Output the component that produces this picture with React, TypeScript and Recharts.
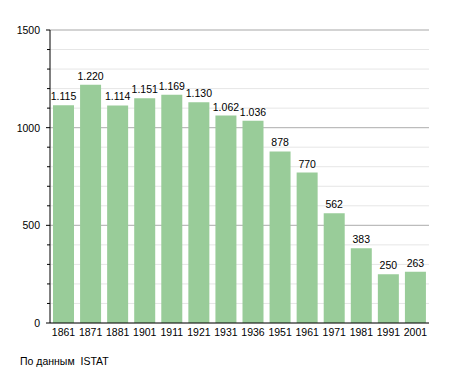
import { Bar, BarChart, CartesianGrid, LabelList, XAxis, YAxis } from "recharts";

const years = ["1861", "1871", "1881", "1901", "1911", "1921", "1931", "1936", "1951", "1961", "1971", "1981", "1991", "2001"];
const population = [1115, 1220, 1114, 1151, 1169, 1130, 1062, 1036, 878, 770, 562, 383, 250, 263];
const yTicks = [0, 100, 200, 300, 400, 500, 600, 700, 800, 900, 1000, 1100, 1200, 1300, 1400, 1500];
const majorTicks = [500, 1000, 1500];
const yMax = 1500;

const data = years.map((year, i) => ({ year, value: population[i] }));

const FONT = "'Liberation Sans', Arial, sans-serif";

// 1115 -> "1.115"
const fmt = (v: number) => String(v).replace(/\B(?=(\d{3})+(?!\d))/g, ".");

const YTick = (props: any) => {
  const { x, y, payload } = props;
  const major = payload.value % 500 === 0;
  return (
    <g>
      <line x1={x - (major ? 4 : 3)} x2={x} y1={y} y2={y} stroke="#000" />
      {major && (
        <text x={x - 10} y={y} dy={4} textAnchor="end" fontSize={10.5} fontFamily={FONT} fill="#000">
          {payload.value}
        </text>
      )}
    </g>
  );
};

// darker grid lines every 500
const majorLines = (props: any) => {
  const { yAxis, offset } = props;
  if (yAxis && typeof yAxis.scale === "function") return majorTicks.map((v) => yAxis.scale(v));
  return majorTicks.map((v) => offset.top + offset.height * (1 - v / yMax));
};

export default function App() {
  return (
    <div style={{ position: "absolute", left: 0, top: 0, width: 455, height: 373, background: "#fff" }}>
      <BarChart width={455} height={373} data={data} margin={{ top: 30, right: 26, bottom: 0, left: 0 }}>
        <CartesianGrid vertical={false} stroke="#e6e6e6" />
        <CartesianGrid vertical={false} stroke="#b3b3b3" horizontalCoordinatesGenerator={majorLines} />
        <XAxis
          dataKey="year"
          height={50}
          tickLine={false}
          axisLine={{ stroke: "#000" }}
          tick={{ fontSize: 10.5, fontFamily: FONT, fill: "#000" }}
          tickMargin={0}
          interval={0}
        />
        <YAxis
          width={50}
          domain={[0, yMax]}
          ticks={yTicks}
          interval={0}
          tickSize={0}
          tickMargin={0}
          axisLine={{ stroke: "#000" }}
          tick={<YTick />}
        />
        <Bar dataKey="value" fill="#99cc99" barSize={21} isAnimationActive={false}>
          <LabelList
            dataKey="value"
            position="top"
            formatter={(v: any) => fmt(Number(v))}
            style={{ fontSize: 10.5, fontFamily: FONT, fill: "#000" }}
          />
        </Bar>
      </BarChart>
      <div style={{ position: "absolute", left: 20, top: 355, fontSize: 10.5, fontFamily: FONT, color: "#000", whiteSpace: "pre" }}>
        {"По данным  ISTAT"}
      </div>
    </div>
  );
}
